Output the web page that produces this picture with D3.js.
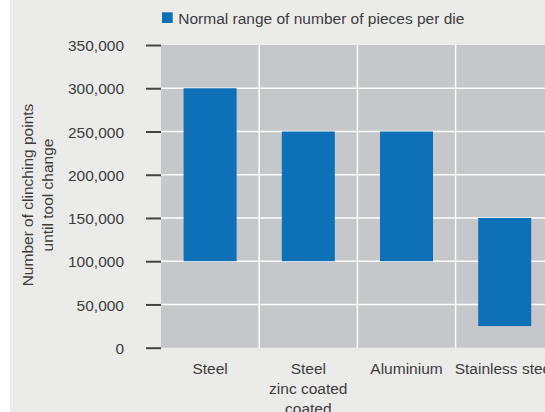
<!DOCTYPE html>
<html>
<head>
<meta charset="utf-8">
<script src="https://cdn.jsdelivr.net/npm/d3@7"></script>
<style>
html,body{margin:0;padding:0;background:#fff;overflow:hidden;}
svg{display:block;}
text{font-family:"Liberation Sans",Arial,sans-serif;}
</style>
</head>
<body>
<svg id="chart" width="545" height="412"></svg>
<script>
const categories = ["Steel", "Steel\nzinc coated\ncoated", "Aluminium", "Stainless steel"];
const rangeLow = [100000, 100000, 100000, 25000];
const rangeHigh = [300000, 250000, 250000, 150000];
const yTicks = [0, 50000, 100000, 150000, 200000, 250000, 300000, 350000];
const legendLabel = "Normal range of number of pieces per die";
const yTitle = ["Number of clinching points", "until tool change"];

const svg = d3.select("#chart");
const W = 545, H = 412;
const plot = {left: 161, top: 45, bottom: 347.7, step: 98.2};
const fontSize = "15.5px";
const textColor = "#3c3c3c";

// outer panel
svg.append("rect").attr("x", 10).attr("y", 0).attr("width", W - 10).attr("height", H).attr("fill", "#ebebea");

const x = d3.scaleBand().domain(categories).range([plot.left, plot.left + plot.step * categories.length]).padding(0);
const y = d3.scaleLinear().domain([0, 350000]).range([plot.bottom, plot.top]);

// plot background
svg.append("rect")
  .attr("x", plot.left).attr("y", plot.top)
  .attr("width", x.range()[1] - plot.left).attr("height", plot.bottom - plot.top)
  .attr("fill", "#c6c7ca");

// horizontal gridlines
svg.append("g").selectAll("line").data(yTicks.filter(d => d > 0 && d < 350000)).join("line")
  .attr("x1", plot.left).attr("x2", x.range()[1])
  .attr("y1", d => y(d)).attr("y2", d => y(d))
  .attr("stroke", "#ffffff").attr("stroke-width", 1.5);

// vertical separators
svg.append("g").selectAll("line").data(categories.slice(1)).join("line")
  .attr("x1", d => x(d)).attr("x2", d => x(d))
  .attr("y1", plot.top).attr("y2", plot.bottom)
  .attr("stroke", "#ffffff").attr("stroke-width", 1.5);

// bars
const barFrac = 0.54;
svg.append("g").selectAll("rect").data(categories).join("rect")
  .attr("x", (d) => x(d) + x.bandwidth() * (1 - barFrac) / 2)
  .attr("width", x.bandwidth() * barFrac)
  .attr("y", (d, i) => y(rangeHigh[i]))
  .attr("height", (d, i) => y(rangeLow[i]) - y(rangeHigh[i]))
  .attr("fill", "#0e71b8");

// y axis
const yAxis = d3.axisLeft(y).tickValues(yTicks).tickSize(15).tickPadding(22)
  .tickFormat(d3.format(","));
const gy = svg.append("g").attr("transform", `translate(${plot.left},0)`).call(yAxis);
gy.select(".domain").remove();
gy.selectAll(".tick line").attr("stroke", "#444").attr("stroke-width", 2);
gy.selectAll(".tick text").attr("fill", textColor).style("font-size", fontSize)
  .attr("font-family", "Liberation Sans, Arial, sans-serif").attr("dy", "0.36em");

// x labels
const gx = svg.append("g");
categories.forEach((c, i) => {
  const t = gx.append("text")
    .attr("x", x(c) + x.bandwidth() / 2)
    .attr("y", 374)
    .attr("text-anchor", "middle")
    .attr("fill", textColor).style("font-size", fontSize);
  c.split("\n").forEach((line, j) => {
    t.append("tspan").attr("x", x(c) + x.bandwidth() / 2).attr("y", 374 + j * 20.2).text(line);
  });
});

// y title
const yt = svg.append("text").attr("transform", "translate(0,195) rotate(-90)")
  .attr("text-anchor", "middle").attr("fill", textColor).style("font-size", fontSize);
yTitle.forEach((line, j) => {
  yt.append("tspan").attr("x", 0).attr("y", 32.5 + j * 20).text(line);
});

// legend
svg.append("rect").attr("x", 162).attr("y", 12.3).attr("width", 10.7).attr("height", 10.7).attr("fill", "#0e71b8");
svg.append("text").attr("x", 178.3).attr("y", 23.5).attr("fill", textColor).style("font-size", fontSize).text(legendLabel);
</script>
</body>
</html>
